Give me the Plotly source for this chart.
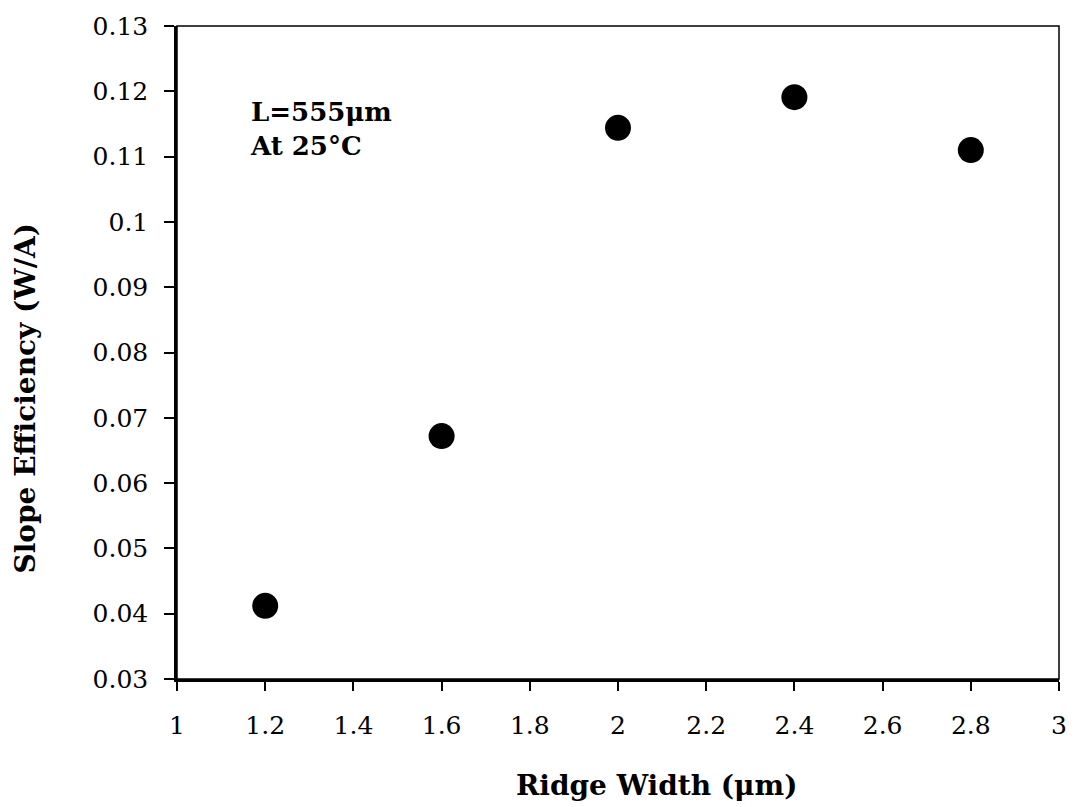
import plotly.graph_objects as go

ridge_width = [1.2, 1.6, 2.0, 2.4, 2.8]
slope_eff = [0.0412, 0.0672, 0.1144, 0.1191, 0.1110]
x_ticks = [1, 1.2, 1.4, 1.6, 1.8, 2, 2.2, 2.4, 2.6, 2.8, 3]
y_ticks = [0.03, 0.04, 0.05, 0.06, 0.07, 0.08, 0.09, 0.1, 0.11, 0.12, 0.13]

font_family = "DejaVu Serif"

fig = go.Figure()
fig.add_trace(go.Scatter(
    x=ridge_width, y=slope_eff, mode="markers",
    marker=dict(size=26, color="black"),
    showlegend=False,
))

fig.update_layout(
    width=1075, height=807,
    margin=dict(l=177, r=8, t=26, b=128),
    paper_bgcolor="white", plot_bgcolor="white",
    font=dict(family=font_family, color="black"),
    xaxis=dict(
        range=[1, 3], tickvals=x_ticks, ticktext=[str(v) for v in x_ticks],
        showgrid=False, zeroline=False, showline=True, linecolor="black", linewidth=2.5,
        ticks="outside", ticklen=9, tickwidth=2, tickcolor="black",
        ticklabelstandoff=13,
        tickfont=dict(size=25, family=font_family),
    ),
    yaxis=dict(
        range=[0.03, 0.13], tickvals=y_ticks, ticktext=[("%g" % v) for v in y_ticks],
        showgrid=False, zeroline=False, showline=True, linecolor="black", linewidth=2.5,
        ticks="outside", ticklen=10, tickwidth=2, tickcolor="black",
        ticklabelstandoff=11,
        tickfont=dict(size=25, family=font_family),
    ),
    shapes=[dict(type="rect", xref="paper", yref="paper", x0=0, y0=0, x1=1, y1=1,
                 line=dict(color="black", width=1.5))],
    annotations=[
        dict(text="<b>L=555μm<br>At 25°C</b>", xref="paper", yref="paper",
             x=0.081, y=0.895, xanchor="left", yanchor="top", showarrow=False, align="left",
             font=dict(size=26, family=font_family)),
        dict(text="<b>Ridge Width (μm)</b>", xref="paper", yref="paper",
             x=0.544, y=-0.163, xanchor="center", yanchor="middle", showarrow=False,
             font=dict(size=28, family=font_family)),
        dict(text="<b>Slope Efficiency (W/A)</b>", xref="paper", yref="paper",
             x=-0.172, y=0.43, xanchor="center", yanchor="middle", showarrow=False,
             textangle=-90, font=dict(size=28, family=font_family)),
    ],
)

fig.write_html("out.html")
